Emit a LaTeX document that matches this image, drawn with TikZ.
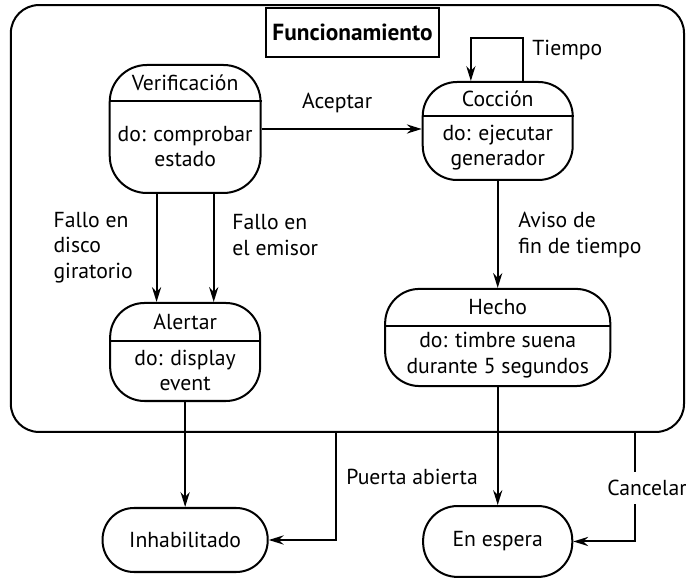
\documentclass[tikz,border=0pt]{standalone}
\usepackage{fontspec}
\setmainfont{PT Sans}
\usetikzlibrary{arrows.meta, calc}

\tikzset{
  estado/.style={draw, line width=1pt, rounded corners=0.6cm},
  texto/.style={align=center, inner sep=1pt},
  etiqueta/.style={align=left, inner sep=0pt},
  flecha/.style={-{Stealth[length=2.6mm, width=1.6mm]}, line width=1pt},
}

\begin{document}
\begin{tikzpicture}[font=\fontsize{10.8}{12.7}\selectfont]
    \useasboundingbox (0,0) rectangle (12.005,-10.115);

    % Funcionamiento (superestado)
    \node[estado, rounded corners=0.49cm, minimum width=11.78cm, minimum height=7.47cm] (func) at (6.08,-3.824) {};
    \node[draw, line width=1pt, fill=white, minimum width=3.03cm, minimum height=0.86cm, font=\fontsize{11.6}{13}\selectfont\bfseries] (titulo) at (6.17,-0.57) {Funcionamiento};

    % Verificacion
    \node[estado, rounded corners=0.65cm, minimum width=2.64cm, minimum height=2.24cm] (verif) at (3.24,-2.2575) {};
    \draw[line width=1pt] ($(verif.north west)+(0,-0.65)$) -- ($(verif.north east)+(0,-0.65)$);
    \node[texto] (verifnom) at ($(verif.north)+(0,-0.325)$) {Verificación};
    \node[texto] (verifdo) at ($(verif.north)+(0,-1.445)$) {do: comprobar\\estado};

    % Coccion
    \node[estado, minimum width=2.625cm, minimum height=1.715cm] (coccion) at (8.71,-2.2925) {};
    \draw[line width=1pt] ($(coccion.north west)+(0,-0.6125)$) -- ($(coccion.north east)+(0,-0.6125)$);
    \node[texto] (coccionnom) at ($(coccion.north)+(0,-0.306)$) {Cocción};
    \node[texto] (cocciondo) at ($(coccion.north)+(0,-1.164)$) {do: ejecutar\\generador};

    % Alertar
    \node[estado, minimum width=2.625cm, minimum height=1.715cm] (alertar) at (3.24,-6.16) {};
    \draw[line width=1pt] ($(alertar.north west)+(0,-0.6825)$) -- ($(alertar.north east)+(0,-0.6825)$);
    \node[texto] (alertarnom) at ($(alertar.north)+(0,-0.341)$) {Alertar};
    \node[texto] (alertardo) at ($(alertar.north)+(0,-1.199)$) {do: display\\event};

    % Hecho
    \node[estado, minimum width=3.94cm, minimum height=1.70cm] (hecho) at (8.71,-5.906) {};
    \draw[line width=1pt] ($(hecho.north west)+(0,-0.665)$) -- ($(hecho.north east)+(0,-0.665)$);
    \node[texto] (hechonom) at ($(hecho.north)+(0,-0.3325)$) {Hecho};
    \node[texto] (hechodo) at ($(hecho.north)+(0,-1.18)$) {do: timbre suena\\durante 5 segundos};

    % Estados de fuera
    \node[estado, rounded corners=0.55cm, minimum width=2.89cm, minimum height=1.12cm] (inhab) at (3.24,-9.45) {Inhabilitado};
    \node[estado, rounded corners=0.6cm, minimum width=2.61cm, minimum height=1.24cm] (espera) at (8.71,-9.476) {En espera};

    % Transiciones
    \draw[flecha] (verif.east) -- (verif.east -| coccion.west);
    \node (aceptar) at (5.90,-1.80) {Aceptar};
    \draw[flecha] ([xshift=0.45cm]coccion.north) -- ++(0,0.75) -| ([xshift=-0.47cm]coccion.north);
    \node[etiqueta, anchor=west] (tiempo) at (9.31,-0.875) {Tiempo};

    \draw[flecha] ([xshift=-0.5cm]verif.south) -- ([xshift=-0.5cm]alertar.north);
    \draw[flecha] ([xshift=0.5cm]verif.south) -- ([xshift=0.5cm]alertar.north);
    \node[etiqueta, anchor=west] (fallodisco) at (0.93,-4.33) {Fallo en\\disco\\giratorio};
    \node[etiqueta, anchor=west] (falloemisor) at (4.06,-4.11) {Fallo en\\el emisor};

    \draw[flecha] (coccion) -- (hecho);
    \node[etiqueta, anchor=west] (aviso) at (9.065,-4.11) {Aviso de\\fin de tiempo};

    \draw[flecha] (alertar) -- (inhab);
    \draw[flecha] (hecho) -- (espera);

    \coordinate (puerta) at ([xshift=-0.2cm]func.south);
    \draw[flecha] (puerta) |- (inhab.east);
    \node[etiqueta, anchor=west] (puertalbl) at (6.055,-8.35) {Puerta abierta};

    \coordinate (cancelar) at ([xshift=-0.875cm]func.south east);
    \draw[flecha] (cancelar) |- (espera.east);
    \node[etiqueta, anchor=west, fill=white, inner ysep=4pt] (cancelarlbl) at (10.62,-8.54) {Cancelar};
\end{tikzpicture}
\end{document}
